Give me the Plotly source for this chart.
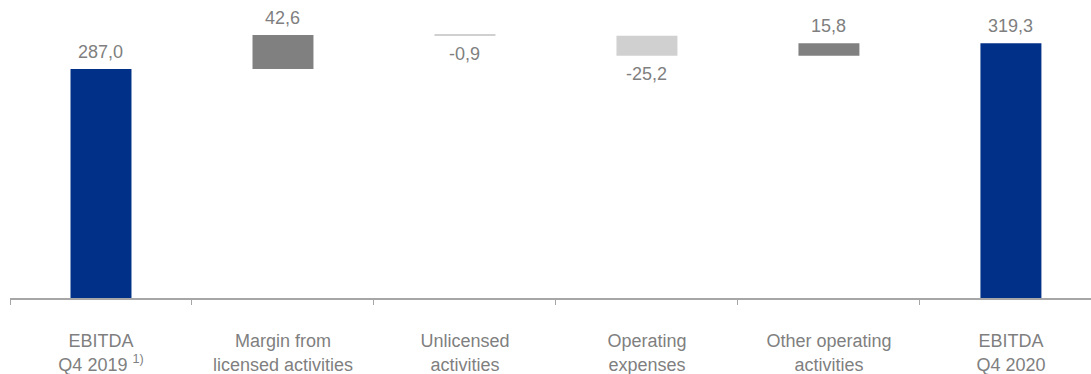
import plotly.graph_objects as go

# EBITDA bridge, Q4 2019 -> Q4 2020 (EUR m)
categories = [
    "EBITDA<br>Q4 2019 <sup>1)</sup>",
    "Margin from<br>licensed activities",
    "Unlicensed<br>activities",
    "Operating<br>expenses",
    "Other operating<br>activities",
    "EBITDA<br>Q4 2020",
]
values = [287.0, 42.6, -0.9, -25.2, 15.8, 319.3]
measures = ["absolute", "relative", "relative", "relative", "relative", "total"]
labels = [f"{v:.1f}".replace(".", ",") for v in values]

BLUE = "#003087"
DARK_GREY = "#808080"
LIGHT_GREY = "#d0d0d0"
TEXT_GREY = "#7f7f7f"
AXIS_GREY = "#a6a6a6"
FONT = "Liberation Sans, Arial, sans-serif"

fig = go.Figure(
    go.Waterfall(
        x=categories,
        y=values,
        measure=measures,
        connector=dict(visible=False),
        increasing=dict(marker=dict(color=DARK_GREY, line=dict(width=0))),
        decreasing=dict(marker=dict(color=LIGHT_GREY, line=dict(width=0))),
        totals=dict(marker=dict(color=BLUE, line=dict(width=0))),
        hoverinfo="skip",
    )
)

# value labels: above rising/total bars, below falling bars
running = 0.0
for cat, val, meas, lab in zip(categories, values, measures, labels):
    if meas == "absolute":
        start, end = 0.0, val
    elif meas == "total":
        start, end = 0.0, running
    else:
        start, end = running, running + val
    running = end
    if val >= 0:
        y, anchor, shift = max(start, end), "bottom", 5
    else:
        y, anchor, shift = min(start, end), "top", -6
    fig.add_annotation(
        x=cat, y=y, text=lab, showarrow=False,
        yanchor=anchor, yshift=shift,
        font=dict(family=FONT, size=18, color=TEXT_GREY),
    )

fig.update_layout(
    width=1091,
    height=374,
    margin=dict(l=10, r=0, t=0, b=76),
    paper_bgcolor="white",
    plot_bgcolor="white",
    showlegend=False,
    waterfallgap=0.665,
    font=dict(family=FONT, size=18, color=TEXT_GREY),
)

fig.update_xaxes(
    type="category",
    range=[-0.5, 5.44],
    showline=True,
    linecolor=AXIS_GREY,
    linewidth=1.5,
    ticks="outside",
    tickson="boundaries",
    ticklen=5,
    tickwidth=1,
    tickcolor=AXIS_GREY,
    ticklabelstandoff=26,
    tickfont=dict(family=FONT, size=18, color=TEXT_GREY),
    showgrid=False,
    zeroline=False,
)

fig.update_yaxes(
    range=[0, 373.4],
    visible=False,
    showgrid=False,
    zeroline=False,
)

fig.write_html("out.html")
